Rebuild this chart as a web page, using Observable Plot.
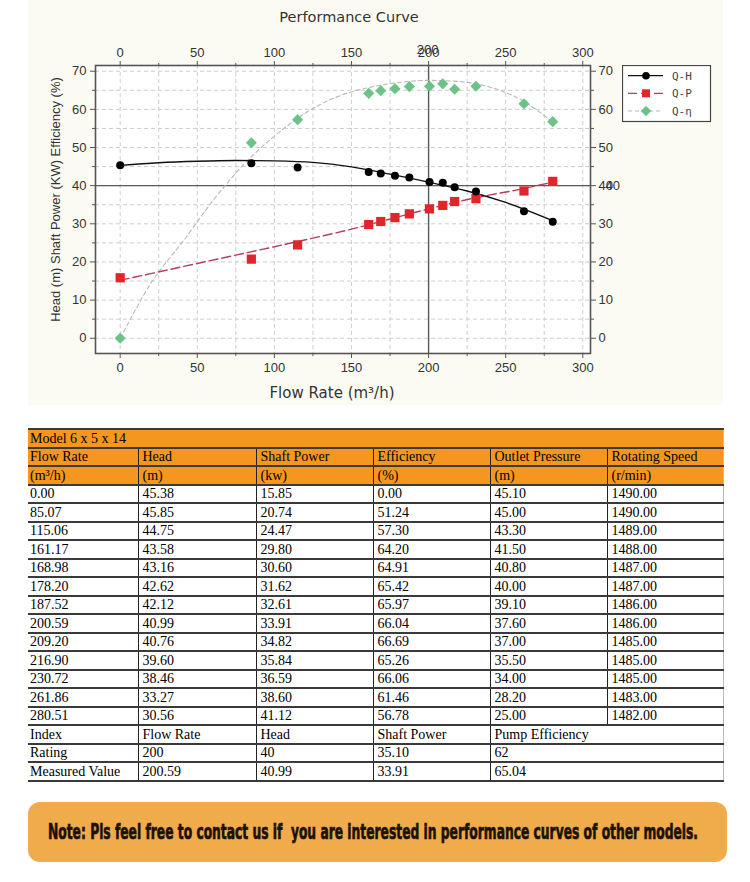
<!DOCTYPE html>
<html><head><meta charset="utf-8">
<script src="https://cdn.jsdelivr.net/npm/d3@7"></script>
<script src="https://cdn.jsdelivr.net/npm/@observablehq/plot@0.6"></script>
<style>
body{margin:0;background:#fff;width:750px;}
#wrap{position:relative;width:750px;height:410px;}
#cream{position:absolute;left:28px;top:0;width:695px;height:405px;background:#fcfbf3;}
#chart{position:absolute;left:0;top:0;}
#legend{position:absolute;left:622px;top:65px;}
table{border-collapse:collapse;margin:18px 0 0 28px;width:695px;table-layout:fixed;font-family:"Liberation Serif",serif;font-size:14px;color:#000;}
tr{height:18.5px;}
td{padding:0 0 0 4px;line-height:15px;vertical-align:middle;border-bottom:2px solid #3a3a3a;border-left:1px solid #222;white-space:nowrap;overflow:hidden;}
td:first-child{border-left:none;padding-left:2px;}
td:last-child{border-right:1px solid #bbb;}
tr.hd td{background:#f5961f;}
tr.top td{border-top:2px solid #3a3a3a;}
#note{margin:20px 0 0 28px;width:699px;height:60px;border-radius:12px;background:#f0ab4a;display:flex;align-items:center;box-sizing:border-box;padding-left:20px;overflow:hidden;}
#note span{display:inline-block;transform-origin:0 50%;font-family:"Liberation Sans Narrow","DejaVu Sans Condensed","Liberation Sans",sans-serif;font-weight:bold;font-size:22px;color:#1c1108;-webkit-text-stroke:0.7px #1c1108;white-space:pre;}
</style>
</head><body>
<div id="wrap"><div id="cream"></div><div id="chart"></div><svg id="legend" width="90" height="58"></svg></div>
<div id="tablewrap"></div>
<div id="note"><span id="notetext"></span></div>
<script>
// ---- data ----
const modelName = "Model 6 x 5 x 14";
const colNames = ["Flow Rate","Head","Shaft Power","Efficiency","Outlet Pressure","Rotating Speed"];
const colUnits = ["(m³/h)","(m)","(kw)","(%)","(m)","(r/min)"];
const flow   = [0.00,85.07,115.06,161.17,168.98,178.20,187.52,200.59,209.20,216.90,230.72,261.86,280.51];
const head   = [45.38,45.85,44.75,43.58,43.16,42.62,42.12,40.99,40.76,39.60,38.46,33.27,30.56];
const power  = [15.85,20.74,24.47,29.80,30.60,31.62,32.61,33.91,34.82,35.84,36.59,38.60,41.12];
const eff    = [0.00,51.24,57.30,64.20,64.91,65.42,65.97,66.04,66.69,65.26,66.06,61.46,56.78];
const outlet = [45.10,45.00,43.30,41.50,40.80,40.00,39.10,37.60,37.00,35.50,34.00,28.20,25.00];
const speed  = [1490,1490,1489,1488,1487,1487,1486,1486,1485,1485,1485,1483,1482];
const indexNames = ["Index","Flow Rate","Head","Shaft Power","Pump Efficiency"];
const ratingRow  = ["Rating","200","40","35.10","62"];
const measuredRow= ["Measured Value","200.59","40.99","33.91","65.04"];
const ratingFlow = 200, ratingHead = 40;
// fitted curves
const hFitQ = [0,25,50,75,100,125,150,175,200,225,250,280];
const hFitV = [45.3,46.0,46.4,46.6,46.5,46.1,44.9,43.0,40.9,38.6,35.6,30.9];
const pFitQ = [0,50,100,150,200,230,260,280];
const pFitV = [15.2,19.6,24.0,28.6,33.9,36.8,39.1,40.9];
const eFitQ = [0,10,20,30,40,60,80,100,120,140,160,180,200,220,240,260,280];
const eFitV = [0,7.5,14.5,20,25,36,45.5,53,59,63.2,65.6,67,67.6,67.3,65.8,62.5,56.8];
const xMajor = [0,50,100,150,200,250,300];
const xMinor = [25,75,125,175,225,275];
const yMajor = [0,10,20,30,40,50,60,70];
const yMinor = [5,15,25,35,45,55,65];
const xGrid = [0,25,50,75,100,125,150,175,200,225,250,275,300];
const yGrid = [0,5,10,15,20,25,30,35,40,45,50,55,60,65,70];
const title = "Performance Curve";
const xLabel = "Flow Rate (m³/h)";
const yLabel = "Head (m) Shaft Power (KW) Efficiency (%)";
const legendItems = ["Q-H","Q-P","Q-η"];
const noteText = "Note: Pls feel free to contact us if  you are interested in performance curves of other models.";

const rows = flow.map((q,i)=>({q, h:head[i], p:power[i], e:eff[i]}));
const hFit = hFitQ.map((q,i)=>({q, v:hFitV[i]}));
const pFit = pFitQ.map((q,i)=>({q, v:pFitV[i]}));
const eFit = eFitQ.map((q,i)=>({q, v:eFitV[i]}));

const axisCommon = {label:null, fontSize:13, stroke:"#555"};
const chart = Plot.plot({
  width:750, height:410, marginLeft:95, marginRight:160, marginTop:65, marginBottom:57,
  x:{domain:[-16,305]}, y:{domain:[-4,71.5]},
  style:{fontFamily:"'Liberation Sans', sans-serif", fontSize:"13px", color:"#333", background:"transparent", overflow:"visible"},
  marks:[
    Plot.frame({fill:"#fff", stroke:null}),
    Plot.ruleX(xGrid, {stroke:"#cdcdcd", strokeDasharray:"4,3", strokeWidth:1}),
    Plot.ruleY(yGrid, {stroke:"#cdcdcd", strokeDasharray:"4,3", strokeWidth:1}),
    Plot.ruleX([ratingFlow], {stroke:"#5a5a5a", strokeWidth:1.4}),
    Plot.ruleY([ratingHead], {stroke:"#5a5a5a", strokeWidth:1.4}),
    Plot.line(eFit, {x:"q", y:"v", curve:"monotone-x", stroke:"#b2bbb4", strokeDasharray:"4,3", strokeWidth:1.1}),
    Plot.line(pFit, {x:"q", y:"v", curve:"monotone-x", stroke:"#b5405a", strokeDasharray:"9,4", strokeWidth:1.4}),
    Plot.line(hFit, {x:"q", y:"v", curve:"monotone-x", stroke:"#111", strokeWidth:1.3}),
    Plot.dot(rows, {x:"q", y:"e", symbol:"diamond2", fill:"#6dc387", r:5}),
    Plot.dot(rows, {x:"q", y:"p", symbol:"square", fill:"#e0262b", r:5.2}),
    Plot.dot(rows, {x:"q", y:"h", fill:"#000", r:4}),
    Plot.frame({stroke:"#555", strokeWidth:1.6}),
    Plot.axisX({...axisCommon, anchor:"bottom", ticks:xMajor, tickSize:5, tickPadding:4}),
    Plot.axisX({...axisCommon, anchor:"bottom", ticks:xMinor, tickSize:3, text:null}),
    Plot.axisX({...axisCommon, anchor:"top", ticks:xMajor, tickSize:5, tickPadding:4}),
    Plot.axisX({...axisCommon, anchor:"top", ticks:xMinor, tickSize:3, text:null}),
    Plot.axisX({...axisCommon, anchor:"top", ticks:[ratingFlow], tickSize:0, tickPadding:12, dx:-1}),
    Plot.axisY({...axisCommon, anchor:"left", ticks:yMajor, tickSize:5, tickPadding:4}),
    Plot.axisY({...axisCommon, anchor:"left", ticks:yMinor, tickSize:3, text:null}),
    Plot.axisY({...axisCommon, anchor:"right", ticks:yMajor, tickSize:5, tickPadding:3}),
    Plot.axisY({...axisCommon, anchor:"right", ticks:yMinor, tickSize:3, text:null}),
    Plot.axisY({...axisCommon, anchor:"right", ticks:[ratingHead], tickSize:0, tickPadding:15}),
    Plot.text([title], {frameAnchor:"top", text:d=>d, lineAnchor:"middle", dy:-48, dx:6, fontSize:14.5, fill:"#333", fontFamily:"'DejaVu Sans', sans-serif"}),
    Plot.text([xLabel], {frameAnchor:"bottom", text:d=>d, lineAnchor:"middle", dy:40, dx:-11, fontSize:15, fill:"#333", fontFamily:"'DejaVu Sans', sans-serif"}),
    Plot.text([yLabel], {frameAnchor:"left", text:d=>d, textAnchor:"middle", rotate:-90, dx:-40, dy:-10, fontSize:13, fill:"#333", fontFamily:"'Liberation Sans', sans-serif"})
  ]
});
document.getElementById("chart").appendChild(chart);

// legend
const lg = d3.select("#legend");
lg.append("rect").attr("x",0.5).attr("y",0.5).attr("width",88).attr("height",56).attr("fill","#fff").attr("stroke","#444").attr("stroke-width",1.2);
const ly = [10.7,28.3,46];
const lstroke = ["#111","#b5405a","#b2bbb4"];
const ldash = [null,"9,4","4,3"];
legendItems.forEach((t,i)=>{
  lg.append("line").attr("x1",6).attr("x2",41).attr("y1",ly[i]).attr("y2",ly[i]).attr("stroke",lstroke[i]).attr("stroke-width",1.2).attr("stroke-dasharray",ldash[i]);
  const sym = [d3.symbolCircle,d3.symbolSquare,d3.symbolDiamond2][i];
  const size = [45,64,70][i];
  lg.append("path").attr("d",d3.symbol(sym,size)()).attr("transform",`translate(24,${ly[i]})`).attr("fill",["#000","#e0262b","#6dc387"][i]);
  lg.append("text").attr("x",50).attr("y",ly[i]).attr("dy","0.35em").attr("font-family","'DejaVu Sans Mono', monospace").attr("font-size",11).attr("fill","#444").text(t);
});

// table
const f2 = v => v.toFixed(2);
let html = "<table>";
html += `<colgroup><col style="width:110px"><col style="width:118px"><col style="width:117px"><col style="width:117px"><col style="width:117px"><col style="width:116px"></colgroup>`;
html += `<tr class="hd top"><td colspan="6">${modelName}</td></tr>`;
html += `<tr class="hd">${colNames.map(c=>`<td>${c}</td>`).join("")}</tr>`;
html += `<tr class="hd">${colUnits.map(c=>`<td>${c}</td>`).join("")}</tr>`;
flow.forEach((q,i)=>{
  html += `<tr>${[q,head[i],power[i],eff[i],outlet[i],speed[i]].map(v=>`<td>${f2(v)}</td>`).join("")}</tr>`;
});
[indexNames, ratingRow, measuredRow].forEach(r=>{
  html += `<tr>${r.map((c,j)=>`<td${j===4?' colspan="2"':''}>${c}</td>`).join("")}</tr>`;
});
html += "</table>";
document.getElementById("tablewrap").innerHTML = html;

// note
const nt = document.getElementById("notetext");
nt.textContent = noteText;
const w = nt.getBoundingClientRect().width;
nt.style.transform = `scaleX(${650/w})`;
</script>
</body></html>
